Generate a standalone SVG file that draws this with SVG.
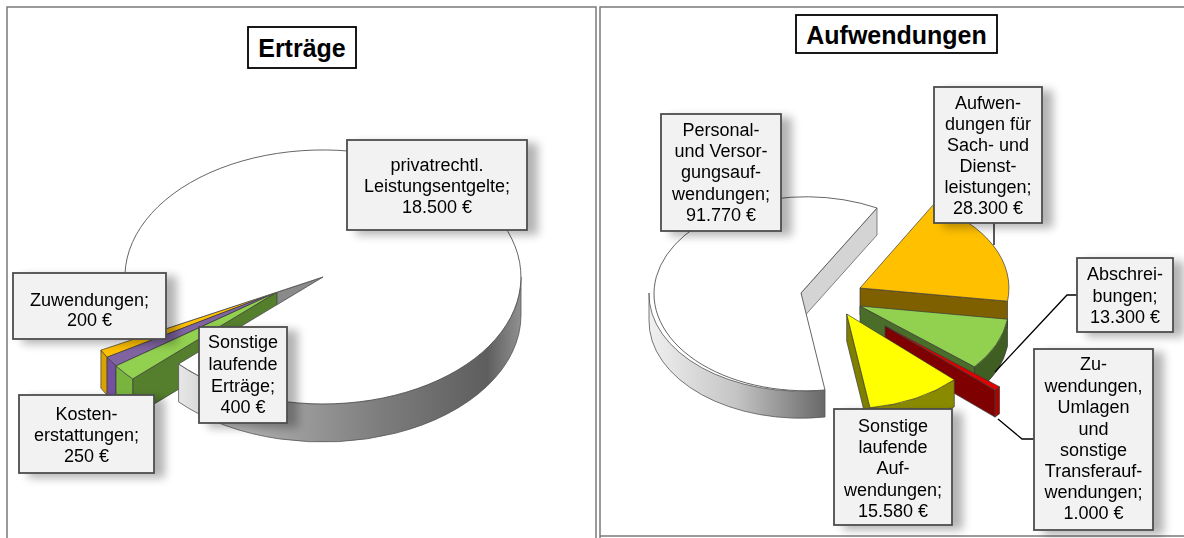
<svg xmlns="http://www.w3.org/2000/svg" width="1184" height="538" viewBox="0 0 1184 538">
<defs>
<style>
.frame{fill:none;stroke:#7a7a7a;stroke-width:1.5}
.title{fill:#fff;stroke:#000;stroke-width:1.8}
.tt{font-family:"Liberation Sans",Arial,sans-serif;font-weight:bold;font-size:25px;fill:#000;text-anchor:middle}
.box{fill:#f2f2f2;stroke:#4d4d4d;stroke-width:1.8}
.lb{font-family:"Liberation Sans",Arial,sans-serif;font-size:18px;fill:#000;text-anchor:middle}
.edge{stroke:#3a3a3a;stroke-width:0.7;stroke-linejoin:round}
.lead{fill:none;stroke:#000;stroke-width:1.3}
</style>
<filter id="sh" x="-20%" y="-20%" width="160%" height="160%">
<feGaussianBlur in="SourceAlpha" stdDeviation="5"/>
<feOffset dx="10" dy="4" result="o"/>
<feComponentTransfer><feFuncA type="linear" slope="0.3"/></feComponentTransfer>
<feMerge><feMergeNode/><feMergeNode in="SourceGraphic"/></feMerge>
</filter>
<linearGradient id="rimL" gradientUnits="userSpaceOnUse" x1="178" y1="0" x2="521" y2="0">
<stop offset="0" stop-color="#e8e8e8"/>
<stop offset="0.25" stop-color="#a8a8a8"/>
<stop offset="0.6" stop-color="#7c7c7c"/>
<stop offset="0.9" stop-color="#5e5e5e"/>
<stop offset="1" stop-color="#909090"/>
</linearGradient>
<linearGradient id="rimR" gradientUnits="userSpaceOnUse" x1="649" y1="0" x2="825" y2="0">
<stop offset="0" stop-color="#f0f0f0"/>
<stop offset="0.5" stop-color="#c4c4c4"/>
<stop offset="1" stop-color="#686868"/>
</linearGradient>
</defs>

<rect width="1184" height="538" fill="#fff"/>

<g id="frames">
<path class="frame" d="M7,538 V7 H596 V538"/>
<path class="frame" d="M600,538 V7 H1184 M600,536 H1184"/>
</g>

<!-- LEFT: Erträge -->
<g id="title-ertraege">
<rect class="title" x="248" y="27" width="108" height="41"/>
<text class="tt" x="302" y="57">Erträge</text>
</g>

<g id="pie-ertraege">
<!-- main slice inner radial face -->
<polygon points="323,277 146.9,335.1 146.9,373.1 323,315" fill="#8a8a8a" class="edge"/>
<!-- exploded group -->
<g id="slice-small">
<polygon points="277,292 132.7,378.9 132.7,416.9 277,330" fill="#557f2c" class="edge"/>
<path d="M100.9,350.1 A198 127 0 0 0 107.1,357.2 L107.1,395.2 A198 127 0 0 1 100.9,388.1 Z" fill="#dba300" class="edge"/>
<path d="M107.1,357.2 A198 127 0 0 0 116,365.9 L116,403.9 A198 127 0 0 1 107.1,395.2 Z" fill="#7450a0" class="edge"/>
<path d="M116,365.9 A198 127 0 0 0 132.7,378.9 L132.7,416.9 A198 127 0 0 1 116,403.9 Z" fill="#78b43e" class="edge"/>
<path d="M277,292 L100.9,350.1 A198 127 0 0 0 107.1,357.2 Z" fill="#ffc000" class="edge"/>
<path d="M277,292 L107.1,357.2 A198 127 0 0 0 116,365.9 Z" fill="#8064a2" class="edge"/>
<path d="M277,292 L116,365.9 A198 127 0 0 0 132.7,378.9 Z" fill="#92d050" class="edge"/>
</g>
<!-- main slice rim and top -->
<path d="M521,277 A198 127 0 0 1 178.6,363.9 L178.6,401.9 A198 127 0 0 0 521,315 Z" fill="url(#rimL)" stroke="#555" stroke-width="0.8"/>
<path d="M323,277 L146.9,335.1 A198 127 0 1 1 178.6,363.9 Z" fill="#fff" stroke="#555" stroke-width="0.9"/>
</g>

<g id="label-privat" filter="url(#sh)">
<rect class="box" x="347" y="140" width="180" height="90"/>
<text class="lb" x="437" y="171">privatrechtl.</text>
<text class="lb" x="437" y="192">Leistungsentgelte;</text>
<text class="lb" x="437" y="213">18.500 €</text>
</g>
<g id="label-zuwendungen" filter="url(#sh)">
<rect class="box" x="13" y="273" width="153" height="66"/>
<text class="lb" x="89.5" y="306">Zuwendungen;</text>
<text class="lb" x="89.5" y="326">200 €</text>
</g>
<g id="label-sonstige-ertraege" filter="url(#sh)">
<rect class="box" x="199" y="327" width="88" height="96"/>
<text class="lb" x="243" y="348">Sonstige</text>
<text class="lb" x="243" y="370">laufende</text>
<text class="lb" x="243" y="392">Erträge;</text>
<text class="lb" x="243" y="413">400 €</text>
</g>
<g id="label-kosten" filter="url(#sh)">
<rect class="box" x="19" y="395" width="135" height="78"/>
<text class="lb" x="86.5" y="420">Kosten-</text>
<text class="lb" x="86.5" y="441">erstattungen;</text>
<text class="lb" x="86.5" y="462">250 €</text>
</g>

<!-- RIGHT: Aufwendungen -->
<g id="title-aufwendungen">
<rect class="title" x="796" y="15" width="201" height="38"/>
<text class="tt" x="896.5" y="44">Aufwendungen</text>
</g>

<g id="pie-aufwendungen">
<g id="slice-personal">
<path d="M649,293 A152 97 0 0 0 825,390 L825,417 A152 97 0 0 1 649,320 Z" fill="url(#rimR)" stroke="#555" stroke-width="0.8"/>
<polygon points="801,293 877,208 877,235 801,320" fill="#d4d4d4" stroke="#666" stroke-width="0.8"/>
<path d="M801,293 L877,208 A152 97 0 1 0 825,390 Z" fill="#fff" stroke="#555" stroke-width="0.9"/>
</g>
<g id="slice-sach">
<polygon points="860,288 1007.5,301.2 1007.5,328.2 860,315" fill="#7f6000" class="edge"/>
<path d="M860,288 L932.9,205.2 A149 95 0 0 1 1007.5,301.2 Z" fill="#ffc000" class="edge"/>
</g>
<g id="slice-abschreibungen">
<polygon points="860,306 974.5,366.8 974.5,393.8 860,333" fill="#4a6e2a" class="edge"/>
<path d="M1007.5,319.2 A149 95 0 0 1 974.5,366.8 L974.5,393.8 A149 95 0 0 0 1007.5,346.2 Z" fill="#3f5f22" class="edge"/>
<path d="M860,306 L1007.5,319.2 A149 95 0 0 1 974.5,366.8 Z" fill="#92d050" class="edge"/>
</g>
<g id="slice-transfer">
<polygon points="885,326 995,390.1 995,417.1 885,353" fill="#7f0000" class="edge"/>
<polygon points="999.5,386.8 995,390.1 995,417.1 999.5,413.8" fill="#b00000" class="edge"/>
<path d="M885,326 L999.5,386.8 A149 95 0 0 1 995,390.1 Z" fill="#e00000" class="edge"/>
</g>
<g id="slice-sonstige">
<polygon points="846.7,314 870,407.8 870,434.8 846.7,341" fill="#808000" class="edge"/>
<path d="M954.3,379.7 A149 95 0 0 1 870,407.8 L870,434.8 A149 95 0 0 0 954.3,406.7 Z" fill="#8a8a00" class="edge"/>
<path d="M846.7,314 L954.3,379.7 A149 95 0 0 1 870,407.8 Z" fill="#ffff00" class="edge"/>
</g>
</g>

<g id="connectors">
<path class="lead" d="M994,223 V245"/>
<path class="lead" d="M1077,295 H1067 L995,372"/>
<path class="lead" d="M1034,439 H1022 L998,419"/>
</g>

<g id="label-personal" filter="url(#sh)">
<rect class="box" x="661" y="114" width="120" height="117"/>
<text class="lb" x="721" y="136">Personal-</text>
<text class="lb" x="721" y="157">und Versor-</text>
<text class="lb" x="721" y="178">gungsauf-</text>
<text class="lb" x="721" y="199.5">wendungen;</text>
<text class="lb" x="721" y="220.5">91.770 €</text>
</g>
<g id="label-sach" filter="url(#sh)">
<rect class="box" x="934" y="87" width="108" height="136"/>
<text class="lb" x="988" y="109">Aufwen-</text>
<text class="lb" x="988" y="130">dungen für</text>
<text class="lb" x="988" y="151">Sach- und</text>
<text class="lb" x="988" y="172">Dienst-</text>
<text class="lb" x="988" y="193">leistungen;</text>
<text class="lb" x="988" y="214">28.300 €</text>
</g>
<g id="label-abschreibungen" filter="url(#sh)">
<rect class="box" x="1077" y="258" width="96" height="74"/>
<text class="lb" x="1125" y="280">Abschrei-</text>
<text class="lb" x="1125" y="301.5">bungen;</text>
<text class="lb" x="1125" y="322.5">13.300 €</text>
</g>
<g id="label-transfer" filter="url(#sh)">
<rect class="box" x="1034" y="349" width="119" height="181"/>
<text class="lb" x="1093.5" y="370">Zu-</text>
<text class="lb" x="1093.5" y="391.5">wendungen,</text>
<text class="lb" x="1093.5" y="413">Umlagen</text>
<text class="lb" x="1093.5" y="434.5">und</text>
<text class="lb" x="1093.5" y="455.5">sonstige</text>
<text class="lb" x="1093.5" y="476.5">Transferauf-</text>
<text class="lb" x="1093.5" y="497.5">wendungen;</text>
<text class="lb" x="1093.5" y="518.5">1.000 €</text>
</g>
<g id="label-sonstige-aufwendungen" filter="url(#sh)">
<rect class="box" x="834" y="409" width="118" height="116"/>
<text class="lb" x="893" y="431.5">Sonstige</text>
<text class="lb" x="893" y="452.5">laufende</text>
<text class="lb" x="893" y="474">Auf-</text>
<text class="lb" x="893" y="495.5">wendungen;</text>
<text class="lb" x="893" y="516.5">15.580 €</text>
</g>
</svg>
